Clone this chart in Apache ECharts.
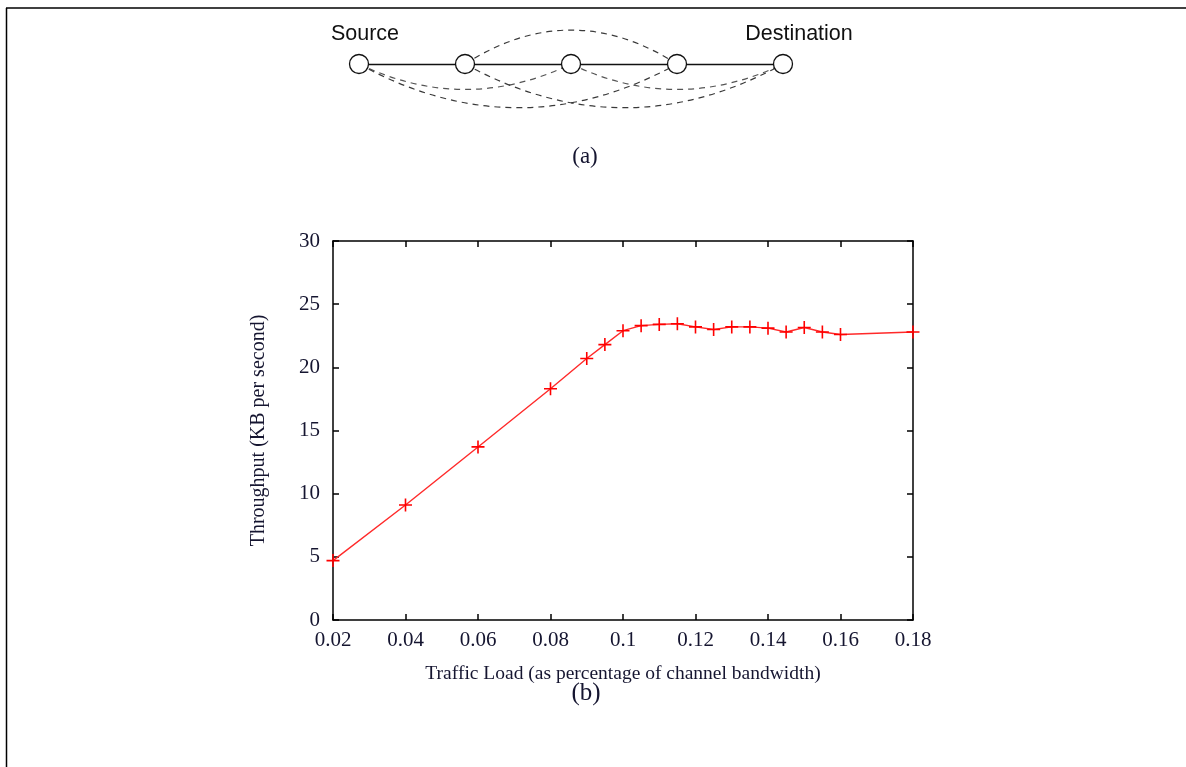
<!DOCTYPE html>
<html>
<head>
<meta charset="utf-8">
<script src="https://cdn.jsdelivr.net/npm/echarts@6/dist/echarts.min.js"></script>
<style>
html,body{margin:0;padding:0;background:#fff;}
#chart{width:1186px;height:767px;}
</style>
</head>
<body>
<div id="chart"></div>
<script>
// ---- Data: throughput plot (b) ----
const trafficLoad = [0.02, 0.04, 0.06, 0.08, 0.09, 0.095, 0.1, 0.105, 0.11, 0.115, 0.12, 0.125, 0.13, 0.135, 0.14, 0.145, 0.15, 0.155, 0.16, 0.18];
const throughput  = [4.7, 9.1, 13.7, 18.3, 20.7, 21.8, 22.9, 23.3, 23.4, 23.45, 23.2, 23.0, 23.2, 23.2, 23.1, 22.8, 23.15, 22.8, 22.6, 22.8];
const xTicks = [0.02, 0.04, 0.06, 0.08, 0.1, 0.12, 0.14, 0.16, 0.18];
const yTicks = [0, 5, 10, 15, 20, 25, 30];

// ---- Data: network diagram (a) ----
const nodeNames = ['Source', '', '', '', 'Destination'];
const nodeIndex = [0, 1, 2, 3, 4];
const solidLinks = [[0, 1], [1, 2], [2, 3], [3, 4]];
const upperArcs = [[1, 3]];
const shallowArcs = [[0, 2], [2, 4]];
const deepArcs = [[0, 3], [1, 4]];

const serif = '"Liberation Serif", "DejaVu Serif", serif';
const sans = '"Liberation Sans", Arial, sans-serif';
const textColor = '#151530';

const chart = echarts.init(document.getElementById('chart'), null, {renderer: 'canvas'});

function linkData(pairs) {
  return pairs.map(p => ({coords: [[nodeIndex[p[0]], 0], [nodeIndex[p[1]], 0]]}));
}

const dashStyle = {color: '#3a3a3a', width: 1.2, type: [6, 5], opacity: 1};

const option = {
  backgroundColor: '#fff',
  animation: false,
  grid: [
    {left: 333, right: 273, top: 241, bottom: 147, containLabel: false},
    {left: 359, width: 424, top: 4, height: 120}
  ],
  xAxis: [
    {
      type: 'value', gridIndex: 0, position: 'bottom',
      min: xTicks[0], max: xTicks[xTicks.length - 1], interval: xTicks[1] - xTicks[0],
      name: 'Traffic Load (as percentage of channel bandwidth)',
      nameLocation: 'middle', nameGap: 44,
      nameTextStyle: {fontFamily: serif, fontSize: 19.5, color: textColor},
      axisLine: {show: true, onZero: false, lineStyle: {color: '#000', width: 1.5}},
      axisTick: {show: true, inside: true, length: 6, lineStyle: {color: '#000', width: 1.5}},
      axisLabel: {fontFamily: serif, fontSize: 21, color: textColor, margin: 10,
        formatter: v => String(parseFloat(v.toFixed(3)))},
      splitLine: {show: false}
    },
    {
      type: 'value', gridIndex: 0, position: 'top',
      min: xTicks[0], max: xTicks[xTicks.length - 1], interval: xTicks[1] - xTicks[0],
      axisLine: {show: true, onZero: false, lineStyle: {color: '#000', width: 1.5}},
      axisTick: {show: true, inside: true, length: 6, lineStyle: {color: '#000', width: 1.5}},
      axisLabel: {show: false},
      splitLine: {show: false}
    },
    {
      type: 'value', gridIndex: 1, min: 0, max: 4, show: false
    }
  ],
  yAxis: [
    {
      type: 'value', gridIndex: 0, position: 'left',
      min: yTicks[0], max: yTicks[yTicks.length - 1], interval: yTicks[1] - yTicks[0],
      name: 'Throughput (KB per second)',
      nameLocation: 'middle', nameGap: 64, nameRotate: 90,
      nameTextStyle: {fontFamily: serif, fontSize: 20, color: textColor},
      axisLine: {show: true, onZero: false, lineStyle: {color: '#000', width: 1.5}},
      axisTick: {show: true, inside: true, length: 6, lineStyle: {color: '#000', width: 1.5}},
      axisLabel: {fontFamily: serif, fontSize: 21, color: textColor, margin: 13},
      splitLine: {show: false}
    },
    {
      type: 'value', gridIndex: 0, position: 'right',
      min: yTicks[0], max: yTicks[yTicks.length - 1], interval: yTicks[1] - yTicks[0],
      axisLine: {show: true, onZero: false, lineStyle: {color: '#000', width: 1.5}},
      axisTick: {show: true, inside: true, length: 6, lineStyle: {color: '#000', width: 1.5}},
      axisLabel: {show: false},
      splitLine: {show: false}
    },
    {
      type: 'value', gridIndex: 1, min: -1.5, max: 1.5, show: false
    }
  ],
  series: [
    {
      type: 'line', xAxisIndex: 0, yAxisIndex: 0,
      data: trafficLoad.map((x, i) => [x, throughput[i]]),
      clip: false,
      lineStyle: {color: '#ff2a2a', width: 1.4},
      symbol: 'path://M5.7,0H7.3V5.7H13V7.3H7.3V13H5.7V7.3H0V5.7H5.7Z',
      symbolSize: 13,
      showAllSymbol: true,
      itemStyle: {color: '#ff0000'},
      z: 5
    },
    {
      type: 'lines', coordinateSystem: 'cartesian2d', xAxisIndex: 2, yAxisIndex: 2,
      data: linkData(solidLinks),
      clip: false,
      lineStyle: {color: '#111', width: 1.3, curveness: 0, opacity: 1},
      z: 2
    },
    {
      type: 'lines', coordinateSystem: 'cartesian2d', xAxisIndex: 2, yAxisIndex: 2,
      data: linkData(upperArcs),
      clip: false,
      lineStyle: Object.assign({}, dashStyle, {curveness: 0.32}),
      z: 2
    },
    {
      type: 'lines', coordinateSystem: 'cartesian2d', xAxisIndex: 2, yAxisIndex: 2,
      data: linkData(shallowArcs),
      clip: false,
      lineStyle: Object.assign({}, dashStyle, {color: '#555', curveness: -0.24}),
      z: 2
    },
    {
      type: 'lines', coordinateSystem: 'cartesian2d', xAxisIndex: 2, yAxisIndex: 2,
      data: linkData(deepArcs),
      clip: false,
      lineStyle: Object.assign({}, dashStyle, {curveness: -0.275}),
      z: 2
    },
    {
      type: 'scatter', xAxisIndex: 2, yAxisIndex: 2,
      data: nodeIndex.map((x, i) => ({
        value: [x, 0],
        label: {
          show: nodeNames[i] !== '',
          formatter: nodeNames[i],
          offset: [i === 0 ? 6 : 16, 0]
        }
      })),
      symbol: 'circle', symbolSize: 19,
      itemStyle: {color: '#fff', borderColor: '#111', borderWidth: 1.3, opacity: 1},
      label: {position: 'top', distance: 9, fontFamily: sans, fontSize: 21.5, color: '#111'},
      z: 4
    }
  ],
  graphic: [
    {type: 'line', shape: {x1: 6, y1: 8, x2: 1186, y2: 8}, style: {stroke: '#000', lineWidth: 1.5}},
    {type: 'line', shape: {x1: 6.5, y1: 8, x2: 6.5, y2: 767}, style: {stroke: '#000', lineWidth: 1.5}},
    {type: 'text', x: 585, y: 157, style: {text: '(a)', font: '23px ' + serif, fill: textColor, align: 'center', verticalAlign: 'middle'}},
    {type: 'text', x: 586, y: 693, style: {text: '(b)', font: '25px ' + serif, fill: textColor, align: 'center', verticalAlign: 'middle'}}
  ]
};

chart.setOption(option);
</script>
</body>
</html>
